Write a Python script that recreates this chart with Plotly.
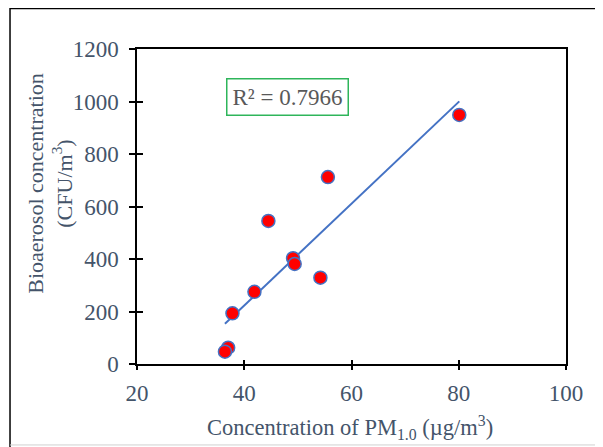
import numpy as np
import plotly.graph_objects as go

# Data
pm10 = [80.1, 55.6, 44.5, 49.1, 49.4, 54.2, 41.9, 37.8, 37.0, 36.4]
bioaerosol = [949, 712, 545, 403, 381, 329, 275, 193, 62, 47]
x_ticks = [20, 40, 60, 80, 100]
y_ticks = [0, 200, 400, 600, 800, 1000, 1200]
r2_label = "R² = 0.7966"

# Linear trendline (least squares) across data range
slope, intercept = np.polyfit(pm10, bioaerosol, 1)
tx = np.array([min(pm10), max(pm10)])
ty = slope * tx + intercept

FONT = "Liberation Serif"
TXT = "#44546A"

fig = go.Figure()
fig.add_trace(go.Scatter(x=tx, y=ty, mode="lines",
                         line=dict(color="#4472C4", width=2),
                         showlegend=False, hoverinfo="skip"))
fig.add_trace(go.Scatter(x=pm10, y=bioaerosol, mode="markers",
                         marker=dict(color="#FF0000", size=13,
                                     line=dict(color="#4472C4", width=1.5)),
                         showlegend=False))
# invisible trace for overlay axes (cross ticks)
fig.add_trace(go.Scatter(x=[pm10[0]], y=[bioaerosol[0]], xaxis="x2", yaxis="y2",
                         mode="markers", marker=dict(opacity=0), showlegend=False,
                         hoverinfo="skip"))

axis_common = dict(showgrid=False, zeroline=False)
fig.update_layout(
    width=595, height=439,
    margin=dict(l=129, r=37, t=41, b=83),
    paper_bgcolor="white", plot_bgcolor="white",
    font=dict(family=FONT, color=TXT, size=23),
    xaxis=dict(range=[20, 100], tickvals=x_ticks, ticks="outside", ticklen=4,
               tickwidth=1.5, tickcolor="black", showline=True, linecolor="black",
               linewidth=1.5, mirror=True, tickfont=dict(size=23, color=TXT),
               ticklabelstandoff=4, **axis_common),
    yaxis=dict(range=[0, 1200], tickvals=y_ticks, ticks="outside", ticklen=6,
               tickwidth=1.5, tickcolor="black", showline=True, linecolor="black",
               linewidth=1.5, mirror=True, tickfont=dict(size=23, color=TXT),
               ticklabelstandoff=6, **axis_common),
    xaxis2=dict(range=[20, 100], tickvals=x_ticks, ticks="inside", ticklen=4,
                tickwidth=1.5, tickcolor="black", showticklabels=False,
                overlaying="x", anchor="y2", side="bottom", showline=False,
                **axis_common),
    yaxis2=dict(range=[0, 1200], tickvals=y_ticks, ticks="inside", ticklen=6,
                tickwidth=1.5, tickcolor="black", showticklabels=False,
                overlaying="y", anchor="x2", side="left", showline=False,
                **axis_common),
)

# outer frame
fig.add_shape(type="line", xref="paper", yref="paper", x0=-0.296, x1=-0.296,
              y0=-0.3, y1=1.13, line=dict(color="black", width=1.5))
fig.add_shape(type="line", xref="paper", yref="paper", x0=-0.296, x1=1.2,
              y0=1.1286, y1=1.1286, line=dict(color="black", width=1.5))
fig.add_shape(type="line", xref="paper", yref="paper", x0=-0.296, x1=1.2,
              y0=-0.257, y1=-0.257, line=dict(color="#D0D0D0", width=1))

# titles
fig.add_annotation(xref="paper", yref="paper", x=-0.203, y=0.575,
                   text="Bioaerosol concentration<br>(CFU/m<sup>3</sup>)",
                   textangle=-90, showarrow=False, font=dict(size=22, color=TXT),
                   xanchor="center", yanchor="middle")
fig.add_annotation(xref="paper", yref="paper", x=0.497, y=-0.2,
                   text="Concentration of PM<sub>1.0</sub> (µg/m<sup>3</sup>)",
                   showarrow=False, font=dict(size=22.5, color=TXT),
                   xanchor="center", yanchor="middle")
# R² box
fig.add_annotation(xref="paper", yref="paper", x=0.351, y=0.847,
                   text=r2_label, showarrow=False,
                   font=dict(size=23, color="#595959"),
                   bordercolor="#2EB55A", borderwidth=1.5, borderpad=5,
                   bgcolor="white", xanchor="center", yanchor="middle")

fig.write_html("out.html")
